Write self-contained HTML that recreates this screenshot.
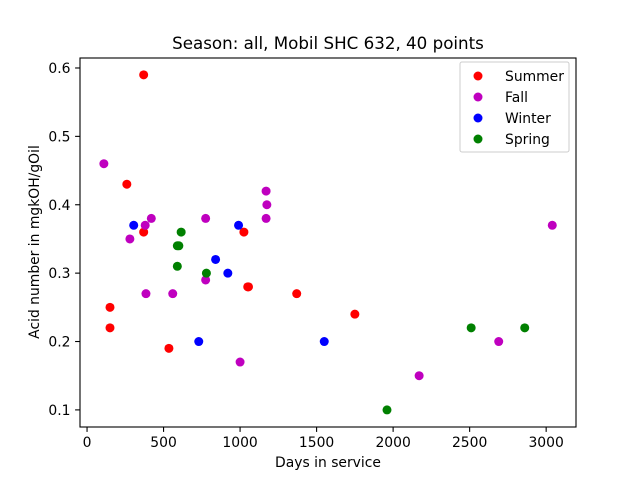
<!DOCTYPE html>
<html><head><meta charset="utf-8"><style>
body{margin:0;background:#fff}
svg{font-family:"DejaVu Sans","Liberation Sans",sans-serif}
</style></head><body>
<svg id="chart" width="640" height="480" xmlns="http://www.w3.org/2000/svg">
<rect width="640" height="480" fill="#fff"/>
<text x="328" y="49" font-size="16.7" text-anchor="middle">Season: all, Mobil SHC 632, 40 points</text>
<g id="plot"></g>
<rect x="80" y="58" width="496" height="369" fill="none" stroke="#000" stroke-width="1.1"/>
<text x="328" y="467" font-size="13.9" text-anchor="middle">Days in service</text>
<text transform="translate(39,242) rotate(-90)" font-size="13.9" text-anchor="middle">Acid number in mgkOH/gOil</text>
<g id="legend"></g>
</svg>
<script>
const seriesNames=["Summer","Fall","Winter","Spring"];
const seriesColors=["#ff0000","#bf00bf","#0000ff","#008000"];
const summerX=[370,260,370,150,150,535,1025,1050,1055,1370,1750];
const summerY=[0.59,0.43,0.36,0.25,0.22,0.19,0.36,0.28,0.28,0.27,0.24];
const fallX=[110,280,380,420,385,560,775,775,1000,1170,1175,1170,2170,2690,3040];
const fallY=[0.46,0.35,0.37,0.38,0.27,0.27,0.38,0.29,0.17,0.42,0.40,0.38,0.15,0.20,0.37];
const winterX=[305,730,840,920,990,1550];
const winterY=[0.37,0.20,0.32,0.30,0.37,0.20];
const springX=[590,600,615,590,780,1960,2510,2860];
const springY=[0.34,0.34,0.36,0.31,0.30,0.10,0.22,0.22];
const xTicks=[0,500,1000,1500,2000,2500,3000];
const yTicks=["0.1","0.2","0.3","0.4","0.5","0.6"];

const NS="http://www.w3.org/2000/svg";
const L=80,R=576,T=58,B=427,xMin=-46,xMax=3195,yMin=0.075,yMax=0.6146;
function sx(v){return L+(v-xMin)/(xMax-xMin)*(R-L);}
function sy(v){return B-(v-yMin)/(yMax-yMin)*(B-T);}
function mk(tag,attrs){const e=document.createElementNS(NS,tag);for(const k in attrs)e.setAttribute(k,attrs[k]);return e;}
const svg=document.getElementById('chart');
const plot=document.getElementById('plot');
xTicks.forEach(t=>{
  const x=sx(t);
  const l=mk('line',{x1:x,x2:x,y1:B,y2:B+4.9,stroke:'#000','stroke-width':1.1});
  
  
  svg.appendChild(l);
  const tx=mk('text',{x:x,y:B+20,'font-size':13.9,'text-anchor':'middle'});
  
  
  tx.textContent=t;svg.appendChild(tx);
});
yTicks.forEach(t=>{
  const y=sy(parseFloat(t));
  const l=mk('line',{x1:L-4.9,x2:L,y1:y,y2:y,stroke:'#000','stroke-width':1.1});
  
  
  svg.appendChild(l);
  const tx=mk('text',{x:L-9.5,y:y+5,'font-size':13.9,'text-anchor':'end'});
  
  
  tx.textContent=t;svg.appendChild(tx);
});
const xs=[summerX,fallX,winterX,springX],ys=[summerY,fallY,winterY,springY];
xs.forEach((arr,s)=>{
  arr.forEach((v,i)=>{
    const c=mk('circle',{cx:sx(v),cy:sy(ys[s][i]),r:4.5,fill:seriesColors[s]});
    
    
    plot.appendChild(c);
  });
});
const lg=document.getElementById('legend');
const box=mk('rect',{x:460,y:62,width:109,height:90,fill:'#fff',stroke:'#ccc','stroke-width':1,rx:2});


lg.appendChild(box);
seriesNames.forEach((n,i)=>{
  const y=76+i*21;
  const c=mk('circle',{cx:478,cy:y,r:4.5,fill:seriesColors[i]});
  
  
  lg.appendChild(c);
  const t=mk('text',{x:505,y:y+5,'font-size':13.9});
  
  
  t.textContent=n;lg.appendChild(t);
});
</script>
</body></html>
